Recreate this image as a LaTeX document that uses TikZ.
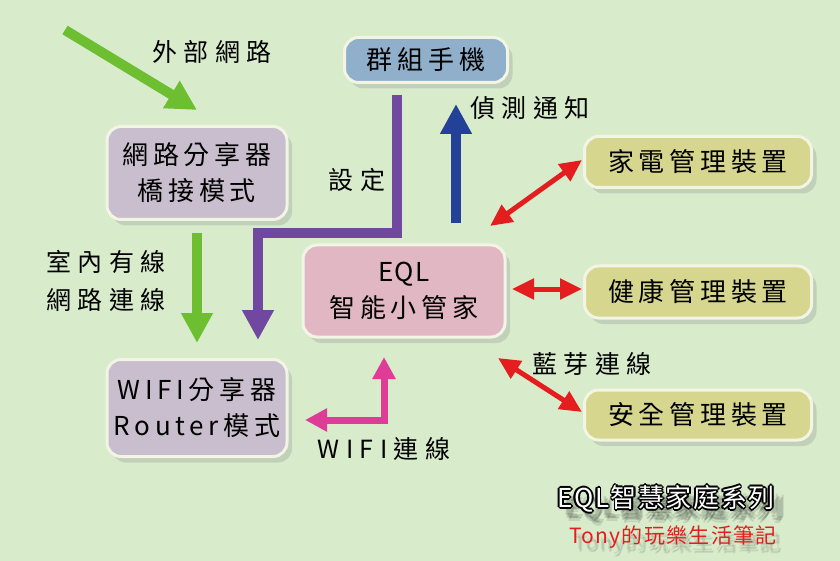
\documentclass[tikz,border=0pt]{standalone}
\usepackage{fontspec}
\newfontfamily\cjk[LetterSpace=18]{Noto Sans CJK TC}
\newfontfamily\cjklbl[LetterSpace=26]{Noto Sans CJK TC}
\newfontfamily\cjkeql[LetterSpace=4]{Noto Sans CJK TC}
\newfontfamily\cjkfoot[LetterSpace=6]{Noto Sans CJK TC}
\usetikzlibrary{arrows.meta,shadows}
\definecolor{bg}{RGB}{216,236,204}
\definecolor{edgecol}{RGB}{242,244,228}
\definecolor{phonefill}{RGB}{143,175,203}
\definecolor{eqlfill}{RGB}{225,183,196}
\definecolor{lavfill}{RGB}{200,190,205}
\definecolor{olivefill}{RGB}{214,214,142}
\definecolor{grn}{RGB}{110,190,50}
\definecolor{purp}{RGB}{112,72,160}
\definecolor{blu}{RGB}{35,65,150}
\definecolor{redc}{RGB}{228,30,30}
\definecolor{pnk}{RGB}{222,60,150}
\tikzset{
  box/.style={draw=edgecol, line width=3pt, rounded corners=14pt, align=center,
    font=\cjk\fontsize{26}{36}\selectfont, text=black,
    drop shadow={opacity=0.25, shadow xshift=5pt, shadow yshift=-6pt}},
  lbl/.style={font=\cjklbl\fontsize{25}{38}\selectfont, text=black, align=center},
  thickarrow/.style={line width=10pt, -{Triangle[width=30pt,length=30pt]}},
  redarrow/.style={redc, line width=5pt, {Triangle[width=20pt,length=22pt]}-{Triangle[width=20pt,length=22pt]}},
  pinkarrow/.style={pnk, line width=7pt, {Triangle[width=22pt,length=22pt]}-{Triangle[width=22pt,length=22pt]}},
  titlefont/.style={font=\cjkfoot\fontsize{26}{30}\selectfont},
  subfont/.style={font=\cjkfoot\fontsize{21}{24}\selectfont},
}
\begin{document}
\begin{tikzpicture}[x=1pt,y=-1pt]
\fill[bg] (0,0) rectangle (840,561);
\useasboundingbox (0,0) rectangle (840,561);

% boxes
\node[box, fill=phonefill, minimum width=163pt, minimum height=45pt] (phone) at (426,60) {群組手機};
\node[box, fill=lavfill, minimum width=180pt, minimum height=93pt] (bridge) at (197,173) {網路分享器\\橋接模式};
\node[box, fill=eqlfill, minimum width=202pt, minimum height=92pt] (eql) at (404,291) {{\cjkeql EQL}\\智能小管家};
\node[box, fill=lavfill, minimum width=180pt, minimum height=97pt] (wifi) at (197,408) {WIFI分享器\\Router模式};
\node[box, fill=olivefill, minimum width=227pt, minimum height=51pt] (home) at (698,162) {家電管理裝置};
\node[box, fill=olivefill, minimum width=227pt, minimum height=52pt] (health) at (698,292) {健康管理裝置};
\node[box, fill=olivefill, minimum width=227pt, minimum height=50pt] (safe) at (698,415) {安全管理裝置};

% free-end coordinates
\coordinate (inetstart) at (65,30);
\coordinate (inetend) at (197,110);
\coordinate (setstart) at (397,95);
\coordinate (setcorner) at (258,233);
\coordinate (setend) at (258,340);
\coordinate (pinkcorner) at (384,420);

% green diagonal
\draw[grn, thickarrow] (inetstart) -- (inetend);
% green down
\draw[grn, thickarrow, shorten <=12pt, shorten >=15pt] (bridge.south) -- (wifi.north);
% purple
\draw[purp, thickarrow] (setstart) |- (setcorner) -- (setend);
% blue
\draw[blu, thickarrow] ([xshift=52pt,yshift=20pt]eql.north) -- ([xshift=30pt,yshift=-20pt]phone.south);
% red
\draw[redarrow] (490,226) -- (582,160);
\draw[redarrow] (512,289) -- (582,289);
\draw[redarrow] (498,358) -- (582,412);
% pink
\draw[pinkarrow] (305,420) -- (pinkcorner) -- (384,357);

% labels
\node[lbl] (l1) at (212,52) {外部網路};
\node[lbl] (l2) at (106,281) {室內有線\\網路連線};
\node[lbl] (l3) at (357,180) {設定};
\node[lbl] (l4) at (530,108) {偵測通知};
\node[lbl] (l5) at (592,364) {藍芽連線};
\node[lbl] (l6) at (384,449) {WIFI連線};

% footer: blurred shadows
\foreach \dx/\dy in {6/8,8/10,10/12,12/9,9/14,7/11,11/11}
  \node[titlefont, text=black, opacity=0.1] at (666+\dx,499+\dy) {EQL智慧家庭系列};
\foreach \dx/\dy in {4/6,6/8,5/9}
  \node[subfont, text=black, opacity=0.08] at (673+\dx,537+\dy) {Tony的玩樂生活筆記};
% footer: outlined title
\foreach \dx/\dy in {1.8/0,-1.8/0,0/1.8,0/-1.8,1.3/1.3,-1.3/1.3,1.3/-1.3,-1.3/-1.3}
  \node[titlefont, text=black] at (666+\dx,499+\dy) {EQL智慧家庭系列};
\node[titlefont, text=white] (title) at (666,499) {EQL智慧家庭系列};
\node[subfont, text=redc] (sub) at (673,537) {Tony的玩樂生活筆記};
\end{tikzpicture}
\end{document}
